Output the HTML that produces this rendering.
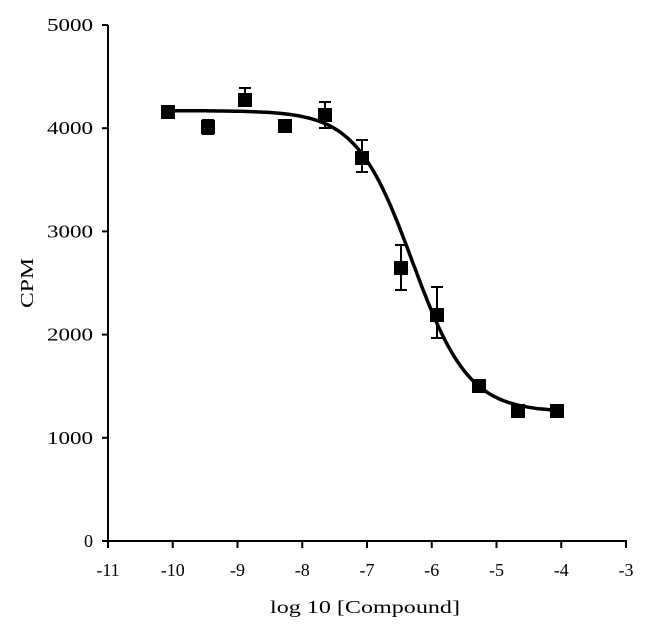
<!DOCTYPE html>
<html><head><meta charset="utf-8"><style>
body{margin:0;background:#fff}
text{font-family:"Liberation Serif",serif;font-size:18px;fill:#000}
</style></head><body>
<svg id="s" width="650" height="638" xmlns="http://www.w3.org/2000/svg">
<g stroke="#000" stroke-width="2" fill="none">
<line x1="108" y1="25" x2="108" y2="542"/>
<line x1="107" y1="541" x2="627" y2="541"/>
</g>
<g id="ticks" stroke="#000" stroke-width="2"></g>
<g id="labels"></g>
<path id="curve" fill="none" stroke="#000" stroke-width="3.5"/>
<g id="pts"></g>
<text x="33" y="283" transform="rotate(-90 33 283)" text-anchor="middle" textLength="50" lengthAdjust="spacingAndGlyphs">CPM</text>
<text x="270" y="613" textLength="190" lengthAdjust="spacingAndGlyphs">log 10 [Compound]</text>
</svg>
<script>
var ns="http://www.w3.org/2000/svg";
function el(p,t,a,txt){var e=document.createElementNS(ns,t);for(var k in a)e.setAttribute(k,a[k]);if(txt!=null)e.textContent=txt;document.getElementById(p).appendChild(e);}
function X(v){return 108+(v+11)*64.75}
function Y(v){return 541-v*0.1032}
for(var i=0;i<=5;i++){var y=Y(i*1000);el("ticks","line",{x1:102,y1:y,x2:108,y2:y});var s=String(i*1000);var a={x:93,y:y+6,"text-anchor":"end"};if(s.length==4){a.textLength=46;a.lengthAdjust="spacingAndGlyphs";}el("labels","text",a,s);}
for(var v=-11;v<=-3;v++){var x=X(v);el("ticks","line",{x1:x,y1:541,x2:x,y2:548});el("labels","text",{x:x,y:576,"text-anchor":"middle"},v);}
var d="";for(var v=-10.05;v<=-3.95;v+=0.05){var y=1250+(4170-1250)/(1+Math.pow(10,(v+6.3)*1.0));d+=(d?"L":"M")+X(v).toFixed(1)+","+Y(y).toFixed(1);}
document.getElementById("curve").setAttribute("d",d);
var P=[[168,112,0,0],[208,127,120,134],[245,100,88,104],[285,126,0,0],[325,115,102,128],[362,158,140,172],[401,268,245,290],[437,315,287,338],[479,386,0,0],[518,411,0,0],[557,411,0,0]];
P.forEach(function(p){if(p[2]){el("pts","line",{x1:p[0],y1:p[2],x2:p[0],y2:p[3],stroke:"#000","stroke-width":2});el("pts","line",{x1:p[0]-6,y1:p[2],x2:p[0]+6,y2:p[2],stroke:"#000","stroke-width":2});el("pts","line",{x1:p[0]-6,y1:p[3],x2:p[0]+6,y2:p[3],stroke:"#000","stroke-width":2});}
el("pts","rect",{x:p[0]-7,y:p[1]-7,width:14,height:14,fill:"#000"});});
</script>
</body></html>
